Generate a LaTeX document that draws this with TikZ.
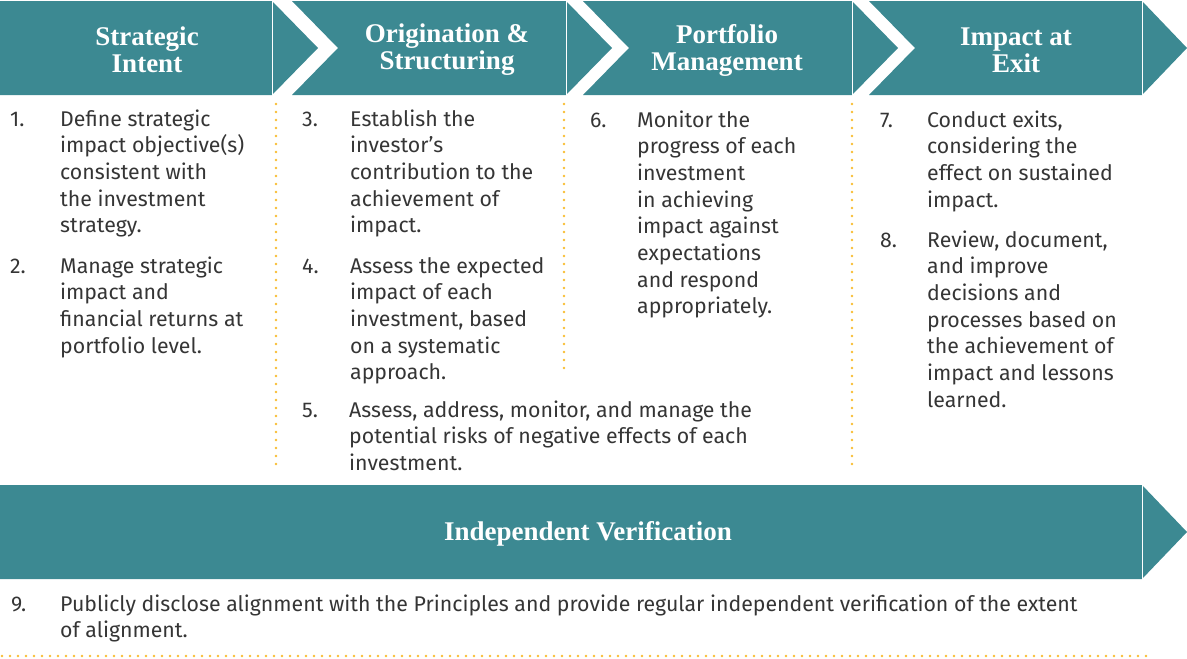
\documentclass[tikz,border=0pt]{standalone}
\usepackage{fontspec}
\setmainfont{Fira Sans}
\newfontfamily\hdrfont{Liberation Serif}
\definecolor{teal1}{HTML}{3C8992}
\definecolor{txtgray}{HTML}{353535}
\definecolor{dotgold}{HTML}{F8BD33}
\tikzset{
  band/.style={fill=teal1, draw=none},
  sep/.style={draw=white, line width=0.7pt},
  hdr/.style={font=\hdrfont\bfseries\fontsize{27}{27}\selectfont, text=white, align=center, inner sep=0pt},
  body/.style={font=\fontsize{21.3}{26.7}\selectfont, text=txtgray, align=left, inner sep=0pt, anchor=base west},
  num/.style={font=\fontsize{21.3}{26.7}\selectfont, text=txtgray, inner sep=0pt, anchor=base west},
  dotline/.style={draw=dotgold, line width=2.7pt, line cap=round, dash pattern=on 0pt off 8pt}
}
\begin{document}
\begin{tikzpicture}[x=1pt,y=-1pt]
\useasboundingbox (0,0) rectangle (1187,659);
% header chevrons
\fill[band] (0,1) -- (272,1) -- (318,48) -- (272,95) -- (0,95) -- cycle;
\fill[band] (292,1) -- (566,1) -- (612,48) -- (566,95) -- (292,95) -- (338,48) -- cycle;
\fill[band] (583,1) -- (852,1) -- (898,48) -- (852,95) -- (583,95) -- (629,48) -- cycle;
\fill[band] (869,1) -- (1142,1) -- (1187,48) -- (1142,95) -- (869,95) -- (915,48) -- cycle;
\draw[sep] (272,1) -- (272,95);
\draw[sep] (566,1) -- (566,95);
\draw[sep] (852,1) -- (852,95);
\draw[sep] (1142,1) -- (1142,95);
% bottom band
\fill[band] (0,485) -- (1142,485) -- (1187,532) -- (1142,579) -- (0,579) -- cycle;
\draw[sep] (1142,485) -- (1142,579);
% header texts
\node[hdr] (h1) at (147,50) {Strategic\\Intent};
\node[hdr] (h2) at (447,50) {Origination \&\\Structuring};
\node[hdr] (h3) at (727,50) {Portfolio\\Management};
\node[hdr] (h4) at (1016,50) {Impact at\\Exit};
\node[hdr] (h5) at (588,534) {Independent Verification};
% dotted separators
\draw[dotline] (276,104) -- (276,470);
\draw[dotline] (564,104) -- (564,374);
\draw[dotline] (852,104) -- (852,470);
\draw[dotline] (2,656) -- (1151,656);
% items (base anchor = baseline of last line)
\node[num] (n1) at (10,126) {1.};
\node[body] (t1) at (60,232.8) {Define strategic\\impact objective(s)\\consistent with\\the investment\\strategy.};
\node[num] (n2) at (10,273) {2.};
\node[body] (t2) at (60,353.1) {Manage strategic\\impact and\\financial returns at\\portfolio level.};
\node[num] (n3) at (302,126) {3.};
\node[body] (t3) at (350,232.8) {Establish the\\investor’s\\contribution to the\\achievement of\\impact.};
\node[num] (n4) at (302,273) {4.};
\node[body] (t4) at (350,379.8) {Assess the expected\\impact of each\\investment, based\\on a systematic\\approach.};
\node[num] (n5) at (302,417) {5.};
\node[body] (t5) at (349,470.4) {Assess, address, monitor, and manage the\\potential risks of negative effects of each\\investment.};
\node[num] (n6) at (590,127) {6.};
\node[body] (t6) at (637,313.9) {Monitor the\\progress of each\\investment\\in achieving\\impact against\\expectations\\and respond\\appropriately.};
\node[num] (n7) at (880,127) {7.};
\node[body] (t7) at (927,207.1) {Conduct exits,\\considering the\\effect on sustained\\impact.};
\node[num] (n8) at (880,247) {8.};
\node[body] (t8) at (927,407.2) {Review, document,\\and improve\\decisions and\\processes based on\\the achievement of\\impact and lessons\\learned.};
\node[num] (n9) at (11,611) {9.};
\node[body] (t9) at (60,637.7) {Publicly disclose alignment with the Principles and provide regular independent verification of the extent\\of alignment.};
\end{tikzpicture}
\end{document}
